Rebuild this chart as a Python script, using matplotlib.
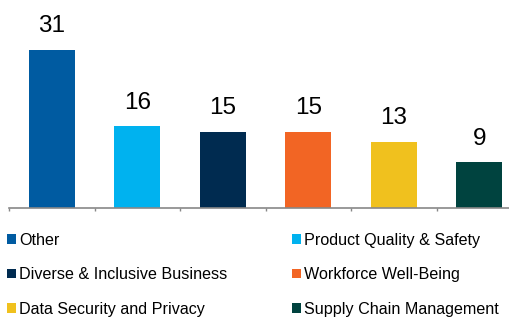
import numpy as np
import matplotlib
matplotlib.use('Agg')
import matplotlib.pyplot as plt
from matplotlib.patches import Patch

categories = ['Other', 'Product Quality & Safety', 'Diverse & Inclusive Business',
              'Workforce Well-Being', 'Data Security and Privacy', 'Supply Chain Management']
values = [31, 16, 15, 15, 13, 9]
colors = ['#005BA1', '#00B2EF', '#002B50', '#F26524', '#F0C11E', '#00433F']

plt.rcParams['font.family'] = ['Liberation Sans', 'DejaVu Sans']

fig = plt.figure(figsize=(5.10, 3.19), dpi=100)
# axes placed in pixels: baseline at y=208, category pitch ~85.5 px
W, H = 510.0, 319.0
ax = fig.add_axes([9 / W, 1 - 208 / H, 501 / W, 178.5 / H])

x = np.arange(len(values))
bars = ax.bar(x, values, width=0.54, color=colors)

for xi, v in zip(x, values):
    ax.annotate(str(v), (xi, v), xytext=(0, 9), textcoords='offset points',
                ha='center', va='bottom', fontsize=17.5)

ax.set_xlim(-0.5, -0.5 + 501 / 85.5)
ax.set_ylim(0, 35)

for s in ['top', 'right', 'left']:
    ax.spines[s].set_visible(False)
ax.spines['bottom'].set_color('#888888')
ax.spines['bottom'].set_linewidth(1.2)
ax.set_yticks([])
ax.set_xticks(np.arange(len(values)) - 0.5)
ax.set_xticklabels([])
ax.tick_params(axis='x', length=2.5, color='#888888', width=1)

order = [0, 2, 4, 1, 3, 5]
handles = [Patch(facecolor=colors[i]) for i in order]
labels = [categories[i] for i in order]
fig.legend(handles, labels, ncol=2, loc='upper left', bbox_to_anchor=(0.014, 1 - 233 / H),
           frameon=False, fontsize=11.6, handlelength=0.55, handleheight=0.55,
           handletextpad=0.2, labelspacing=1.2, columnspacing=4.0, borderpad=0,
           borderaxespad=0)

fig.savefig('out.png', dpi=100)
